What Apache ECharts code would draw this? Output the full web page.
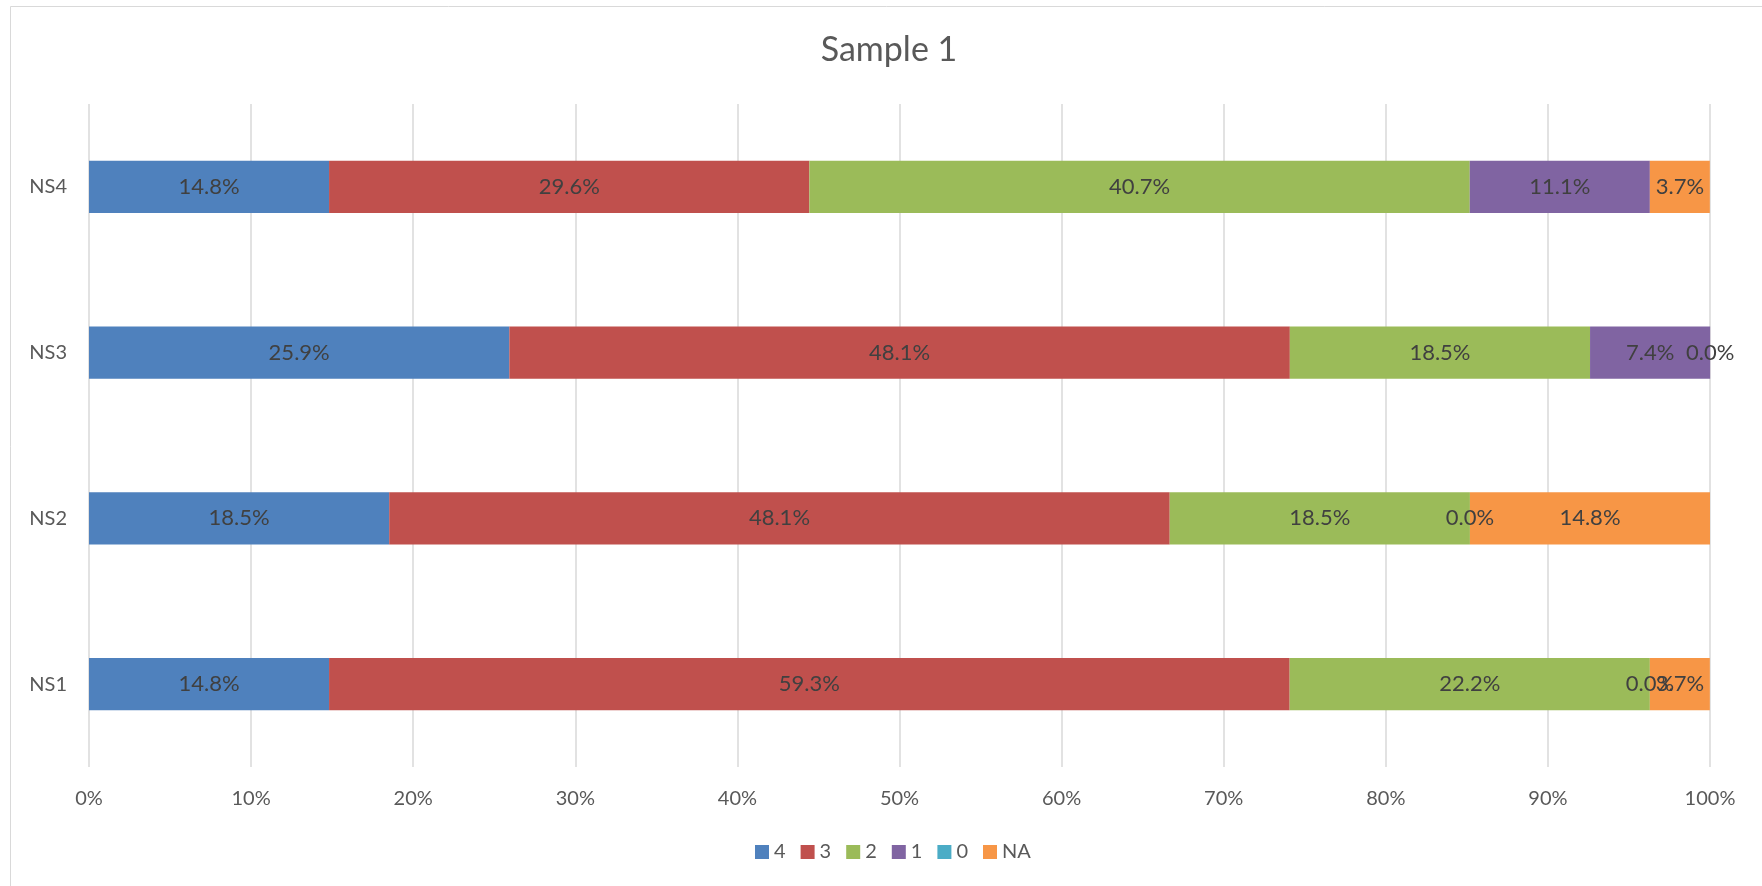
<!DOCTYPE html>
<html>
<head>
<meta charset="utf-8">
<script src="https://cdn.jsdelivr.net/npm/echarts@6/dist/echarts.min.js"></script>
<style>
  html, body { margin: 0; padding: 0; background: #fff; }
  #chart { width: 1762px; height: 886px; }
</style>
</head>
<body>
<div id="chart"></div>
<script>
// categories (bottom to top) and series, values in percent
var categories = ['NS1', 'NS2', 'NS3', 'NS4'];
var seriesNames = ['4', '3', '2', '1', '0', 'NA'];
var s4 = [14.81, 18.52, 25.93, 14.81];
var s3 = [59.26, 48.15, 48.15, 29.63];
var s2 = [22.22, 18.52, 18.52, 40.74];
var s1 = [0, 0, 7.41, 11.11];
var s0 = [null, null, null, null];
var sNA = [3.70, 14.81, 0, 3.70];
var xTicks = [0, 10, 20, 30, 40, 50, 60, 70, 80, 90, 100];

var colors = ['#4F81BD', '#C0504D', '#9BBB59', '#8064A2', '#4BACC6', '#F79646'];
var font = 'Lato, "Open Sans", sans-serif';

var chart = echarts.init(document.getElementById('chart'));

var seriesData = [s4, s3, s2, s1, s0, sNA];
var series = seriesNames.map(function (name, i) {
  return {
    name: name,
    type: 'bar',
    stack: 'total',
    clip: false,
    barWidth: '31.4%',
    itemStyle: { color: colors[i] },
    label: {
      show: true,
      position: 'inside',
      color: '#404040',
      fontFamily: font,
      fontSize: 22,
      formatter: function (p) {
        return p.value == null ? '' : p.value.toFixed(1) + '%';
      }
    },
    data: seriesData[i]
  };
});

var option = {
  animation: false,
  color: colors,
  textStyle: { fontFamily: font },
  title: {
    text: 'Sample 1',
    left: 884,
    top: 28,
    textAlign: 'center',
    textStyle: { color: '#595959', fontSize: 34, fontWeight: 'normal', fontFamily: font }
  },
  legend: {
    bottom: 19,
    left: 750,
    icon: 'rect',
    itemWidth: 14,
    itemHeight: 14,
    itemGap: 15,
    textStyle: { color: '#595959', fontSize: 20, fontFamily: font },
    data: seriesNames
  },
  graphic: [{
    type: 'rect',
    shape: { x: 10.5, y: 6.5, width: 1800, height: 1000 },
    style: { fill: 'none', stroke: '#d9d9d9', lineWidth: 1 },
    silent: true
  }],
  grid: { left: 89, right: 52, top: 104, bottom: 119 },
  xAxis: {
    type: 'value',
    min: xTicks[0],
    max: xTicks[xTicks.length - 1],
    interval: 10,
    axisLine: { show: false },
    axisTick: { show: false },
    splitLine: { show: true, lineStyle: { color: '#d9d9d9', width: 1.5 } },
    axisLabel: {
      color: '#595959',
      fontSize: 20,
      fontFamily: font,
      margin: 22,
      formatter: function (v) { return v + '%'; }
    }
  },
  yAxis: {
    type: 'category',
    data: categories,
    axisLine: { show: false },
    axisTick: { show: false },
    axisLabel: { color: '#595959', fontSize: 20, fontFamily: font, margin: 22 }
  },
  series: series
};

chart.setOption(option);
window.addEventListener('resize', chart.resize);
</script>
</body>
</html>
